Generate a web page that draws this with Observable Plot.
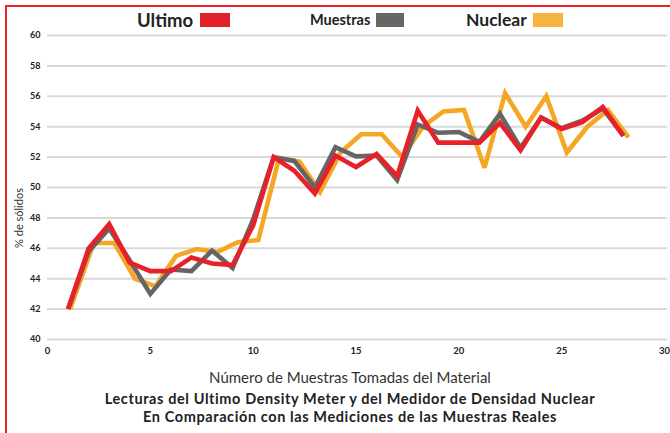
<!DOCTYPE html>
<html><head><meta charset="utf-8">
<script src="https://cdn.jsdelivr.net/npm/d3@7"></script>
<script src="https://cdn.jsdelivr.net/npm/@observablehq/plot@0.6"></script>
<style>
body{margin:0;background:#fff;font-family:Lato,"Open Sans",sans-serif;color:#222;}
#wrap{position:relative;width:670px;height:433px;overflow:hidden;background:#fff;}
#frame{position:absolute;left:5px;top:5px;width:720px;height:500px;border-top:2px solid #e8202a;border-left:2px solid #e8202a;}
#chart{position:absolute;left:0;top:0;}
.leg{position:absolute;top:8px;height:24px;line-height:24px;font-weight:700;white-space:nowrap;color:#222;}
.sw{position:absolute;}
.txt{position:absolute;left:0;width:700px;text-align:center;white-space:nowrap;}
.ttl{font-size:14.5px;line-height:17.5px;font-weight:700;letter-spacing:0.6px;}
#ylab{position:absolute;left:18px;top:218px;transform:translate(-50%,-50%) rotate(-90deg);font-size:11px;white-space:nowrap;color:#333;}
</style></head>
<body>
<div id="wrap">
  <div id="frame"></div>
  <div id="chart"></div>
  <div id="legend"></div>
  <div id="ylab">% de sólidos</div>
  <div class="txt" style="top:368px;font-size:15px;line-height:18px;color:#333;">Número de Muestras Tomadas del Material</div>
  <div class="txt ttl" style="top:390px;">Lecturas del Ultimo Density Meter y del Medidor de Densidad Nuclear</div>
  <div class="txt ttl" style="top:407.5px;">En Comparación con las Mediciones de las Muestras Reales</div>
</div>
<script>
// ---- data ----
const sampleNo = [1,2,3,4,5,6,7,8,9,10,11,12,13,14,15,16,17,18,19,20,21,22,23,24,25,26,27,28];
const ultimo   = [42.0,46.0,47.6,45.05,44.5,44.5,45.4,45.0,44.9,47.5,52.0,51.1,49.6,52.1,51.35,52.2,50.75,55.05,52.95,52.95,52.95,54.25,52.45,54.6,53.85,54.3,55.3,53.4];
const muestras = [42.0,45.8,47.3,45.2,43.0,44.6,44.5,45.85,44.7,47.9,52.0,51.75,50.0,52.65,52.05,52.1,50.5,54.15,53.6,53.65,53.0,54.85,52.6,54.6,53.9,54.4,55.2,53.4];
const nuclearSampleNo = [1.1,2.25,3.25,4.25,5.25,6.25,7.25,8.25,9.25,10.25,11.25,12.25,13.25,14.25,15.25,16.25,17.25,18.25,19.25,20.25,21.25,22.25,23.25,24.25,25.25,26.25,27.25,28.25];
const nuclear  = [42.0,46.35,46.35,44.0,43.5,45.5,45.95,45.75,46.4,46.55,51.9,51.7,49.7,52.3,53.5,53.5,52.0,54.0,55.0,55.1,51.3,56.2,54.0,56.0,52.3,54.0,55.1,53.3];
const seriesNames = ["Ultimo","Muestras","Nuclear"];
const seriesColors = ["#e8202a","#656565","#f5a623"];
const legendColors = ["#e0202a","#666666","#f7b440"];
const xTicks = [0,5,10,15,20,25,30];
const yTicks = [40,42,44,46,48,50,52,54,56,58,60];

const rows = (xs, ys, name) => xs.map((x, i) => ({x, y: ys[i], series: name}));
const dUltimo = rows(sampleNo, ultimo, seriesNames[0]);
const dMuestras = rows(sampleNo, muestras, seriesNames[1]);
const dNuclear = rows(nuclearSampleNo, nuclear, seriesNames[2]);

const lineOpts = {x: "x", y: "y", stroke: "series", strokeWidth: 4.6, strokeLinejoin: "miter", strokeMiterlimit: 3, strokeLinecap: "butt"};

const chart = Plot.plot({
  width: 670, height: 360,
  marginTop: 35, marginBottom: 21, marginLeft: 47, marginRight: 6,
  style: {fontFamily: "Lato, 'Open Sans', sans-serif", background: "transparent"},
  x: {domain: [0, 30]},
  y: {domain: [40, 60]},
  color: {domain: seriesNames, range: seriesColors},
  marks: [
    Plot.ruleY(yTicks, {stroke: "#d9d9d9", strokeWidth: 2, x1: 0, x2: 30.15}),
    Plot.axisY({ticks: yTicks, tickSize: 0, tickPadding: 7, fontSize: 9, fontWeight: 700, fill: "#222", label: null}),
    Plot.axisX({ticks: xTicks, tickSize: 0, tickPadding: 8, fontSize: 9.5, fontWeight: 700, fill: "#222", label: null}),
    Plot.line(dNuclear, lineOpts),
    Plot.line(dMuestras, lineOpts),
    Plot.line(dUltimo, lineOpts)
  ]
});
document.getElementById("chart").appendChild(chart);

// legend
const legendItems = [
  {name: seriesNames[0], color: legendColors[0], left: 137, size: 18.5, sw: 30, swLeft: 200},
  {name: seriesNames[1], color: legendColors[1], left: 310, size: 14.5, sw: 28, swLeft: 376},
  {name: seriesNames[2], color: legendColors[2], left: 466, size: 17.5, sw: 30, swLeft: 533}
];
const leg = document.getElementById("legend");
legendItems.forEach(it => {
  const t = document.createElement("div");
  t.className = "leg"; t.textContent = it.name;
  t.style.left = it.left + "px"; t.style.fontSize = it.size + "px";
  leg.appendChild(t);
  const s = document.createElement("div");
  s.className = "sw";
  s.style.left = it.swLeft + "px"; s.style.top = "13px";
  s.style.width = it.sw + "px"; s.style.height = "14px";
  s.style.background = it.color;
  leg.appendChild(s);
});
</script>
</body></html>
